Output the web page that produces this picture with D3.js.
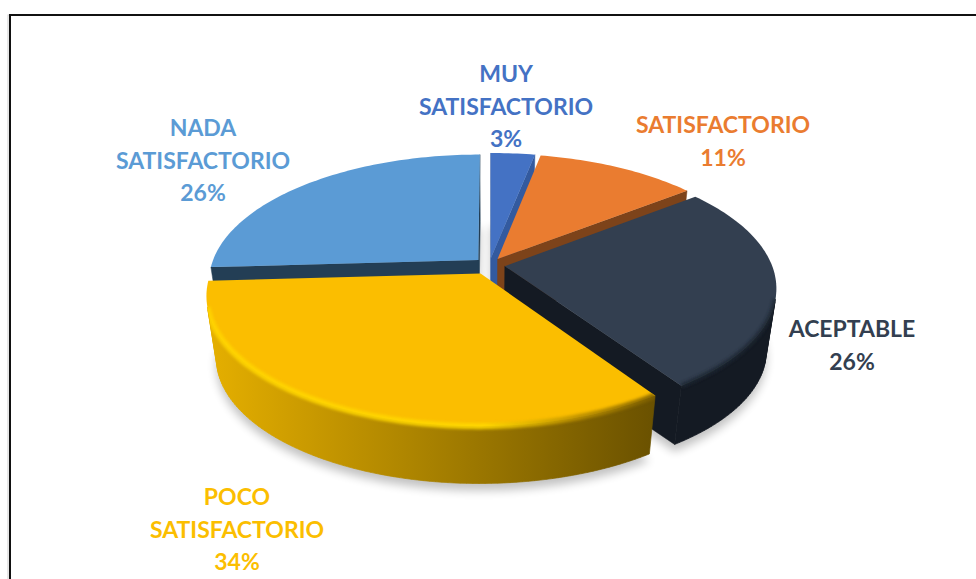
<!DOCTYPE html>
<html><head><meta charset="utf-8">
<script src="https://cdnjs.cloudflare.com/ajax/libs/d3/7.8.5/d3.min.js"></script>
<style>html,body{margin:0;padding:0;background:#fff;overflow:hidden}svg{display:block}</style>
</head><body><div id="chart"></div>
<script>
const categories = ["MUY SATISFACTORIO","SATISFACTORIO","ACEPTABLE","POCO SATISFACTORIO","NADA SATISFACTORIO"];
const values = [3.1,11.4,26.0,33.6,25.9];
const labelLines = [["MUY","SATISFACTORIO","3%"],["SATISFACTORIO","11%"],["ACEPTABLE","26%"],["POCO","SATISFACTORIO","34%"],["NADA","SATISFACTORIO","26%"]];
const topColors = ["#4472C4","#EA7C30","#333F50","#FBBE00","#5B9BD5"];
const cutColors = ["#335A9F","#7D431A","#141A23","#6A5100","#233E55"];
const rimStops = [["#335A9F","#335A9F"],["#7D431A","#7D431A"],["#141A23","#141A23"],["#E6B000","#6A5100"],["#233E55","#233E55"]];

const W=976,H=579;
const labelCenters=[[506,74],[723,125],[852,329],[237,497],[203,128]];
const lineStep=32.6;
const cx=489.5,cy=265,a=0.165,B=124.4,C=267,S=0.965,D=63;
const explodeBy=[0.058,0.058,0.058,0.075,0.058];
const drawOrder=[4,0,1,2,3];

function project(u,v,h){
  const w=1+a*v, s=1-(1-S)*h;
  return [cx+C*u/w*s, cy-B*v/w*s+D*h];
}
const svg=d3.select("#chart").append("svg").attr("width",W).attr("height",H);
const defs=svg.append("defs");
defs.append("filter").attr("id","shadow").attr("x","-20%").attr("y","-20%").attr("width","140%").attr("height","140%")
  .append("feGaussianBlur").attr("stdDeviation",5);
defs.append("filter").attr("id","soft").attr("x","-20%").attr("y","-20%").attr("width","140%").attr("height","140%")
  .append("feGaussianBlur").attr("stdDeviation",1.8);

svg.append("rect").attr("x",8).attr("y",15).attr("width",W).attr("height",H).attr("fill","none").attr("stroke","#d0d0d0").attr("stroke-width",1);
svg.append("rect").attr("x",10).attr("y",15).attr("width",W).attr("height",H).attr("fill","none").attr("stroke","#111").attr("stroke-width",2);

const pie=d3.pie().sort(null).value(d=>d)(values);
const line=d3.line();
const slices=pie.map((d,i)=>{
  const mid=(d.startAngle+d.endAngle)/2;
  const ox=Math.sin(mid)*explodeBy[i], oy=Math.cos(mid)*explodeBy[i];
  const n=Math.max(4,Math.ceil((d.endAngle-d.startAngle)/0.02));
  const disk=[[ox,oy]];
  d3.range(n+1).forEach(k=>{
    const t=d.startAngle+(d.endAngle-d.startAngle)*k/n;
    disk.push([ox+Math.sin(t),oy+Math.cos(t)]);
  });
  return {i,disk,top:disk.map(p=>project(p[0],p[1],0)),bot:disk.map(p=>project(p[0],p[1],1))};
});

// soft ground shadow
const shadow=svg.append("g").attr("filter","url(#shadow)").attr("fill","#000").attr("opacity",0.24).attr("transform","translate(0,7)");
slices.forEach(s=>shadow.append("path").attr("d",line(s.bot)+"Z"));

// rim gradients
slices.forEach(s=>{
  const g=defs.append("linearGradient").attr("id","rim"+s.i).attr("gradientUnits","userSpaceOnUse")
    .attr("x1",205).attr("x2",655).attr("y1",0).attr("y2",0);
  const c=d3.scaleLinear().domain([0,1]).range(rimStops[s.i]).interpolate(d3.interpolateRgb);
  d3.range(0,1.01,0.25).forEach(t=>g.append("stop").attr("offset",t).attr("stop-color",c(t)));
});
const hi=defs.append("linearGradient").attr("id","hi3").attr("gradientUnits","userSpaceOnUse")
  .attr("x1",205).attr("x2",655).attr("y1",0).attr("y2",0);
hi.append("stop").attr("offset",0).attr("stop-color","#FFD400");
hi.append("stop").attr("offset",0.62).attr("stop-color","#FFD800");
hi.append("stop").attr("offset",0.82).attr("stop-color","#BE9200");
hi.append("stop").attr("offset",1).attr("stop-color","#7E6000");

const area=q=>d3.polygonArea(q);
drawOrder.forEach(idx=>{
  const s=slices[idx], G=svg.append("g"), m=s.top.length;
  let cutD="",rimD="";
  const frontRim=[];
  for(let k=0;k<m;k++){
    const k2=(k+1)%m;
    const q=[s.top[k],s.top[k2],s.bot[k2],s.bot[k]];
    if(area(q)<=0) continue;     // back-facing wall
    const isCut=(k===0||k===m-1);
    if(isCut) cutD+=line(q)+"Z";
    else { rimD+=line(q)+"Z"; frontRim.push(s.top[k]); frontRim.push(s.top[k2]); }
  }
  if(cutD) G.append("path").attr("d",cutD).attr("fill",cutColors[idx]).attr("stroke",cutColors[idx]).attr("stroke-width",0.5);
  if(rimD) G.append("path").attr("d",rimD).attr("fill",`url(#rim${idx})`).attr("stroke",`url(#rim${idx})`).attr("stroke-width",0.7);
  G.append("path").attr("d",line(s.top)+"Z").attr("fill",topColors[idx]);
  // bevel along the visible rim, kept inside the slice's own outline
  const clipId="clip"+idx;
  const clip=defs.append("clipPath").attr("id",clipId);
  clip.append("path").attr("d",line(s.top)+"Z");
  if(rimD) clip.append("path").attr("d",rimD);
  if(idx===3){
    G.append("g").attr("clip-path",`url(#${clipId})`).append("path").attr("d",line(frontRim)).attr("fill","none").attr("stroke","url(#hi3)").attr("stroke-width",6)
      .attr("filter","url(#soft)").attr("opacity",0.9);
  } else if(idx===2 && frontRim.length){
    G.append("g").attr("clip-path",`url(#${clipId})`).append("path").attr("d",line(frontRim)).attr("fill","none").attr("stroke","#1E2632").attr("stroke-width",5).attr("filter","url(#soft)").attr("opacity",0.8);
  } else if(idx===4 && frontRim.length){
    G.append("g").attr("clip-path",`url(#${clipId})`).append("path").attr("d",line(frontRim)).attr("fill","none").attr("stroke","#74AEE2").attr("stroke-width",4).attr("filter","url(#soft)").attr("opacity",0.7);
  }
});

// labels
svg.append("g").attr("font-family","Lato, 'Open Sans', sans-serif").attr("font-weight",700).attr("font-size",23)
 .selectAll("g").data(labelLines).join("g").attr("fill",(d,i)=>topColors[i])
 .each(function(lines,i){
   d3.select(this).selectAll("text").data(lines).join("text")
     .attr("x",labelCenters[i][0]).attr("y",(d,j)=>labelCenters[i][1]+j*lineStep)
     .attr("dy","0.36em").attr("text-anchor","middle").text(d=>d);
 });
</script></body></html>
